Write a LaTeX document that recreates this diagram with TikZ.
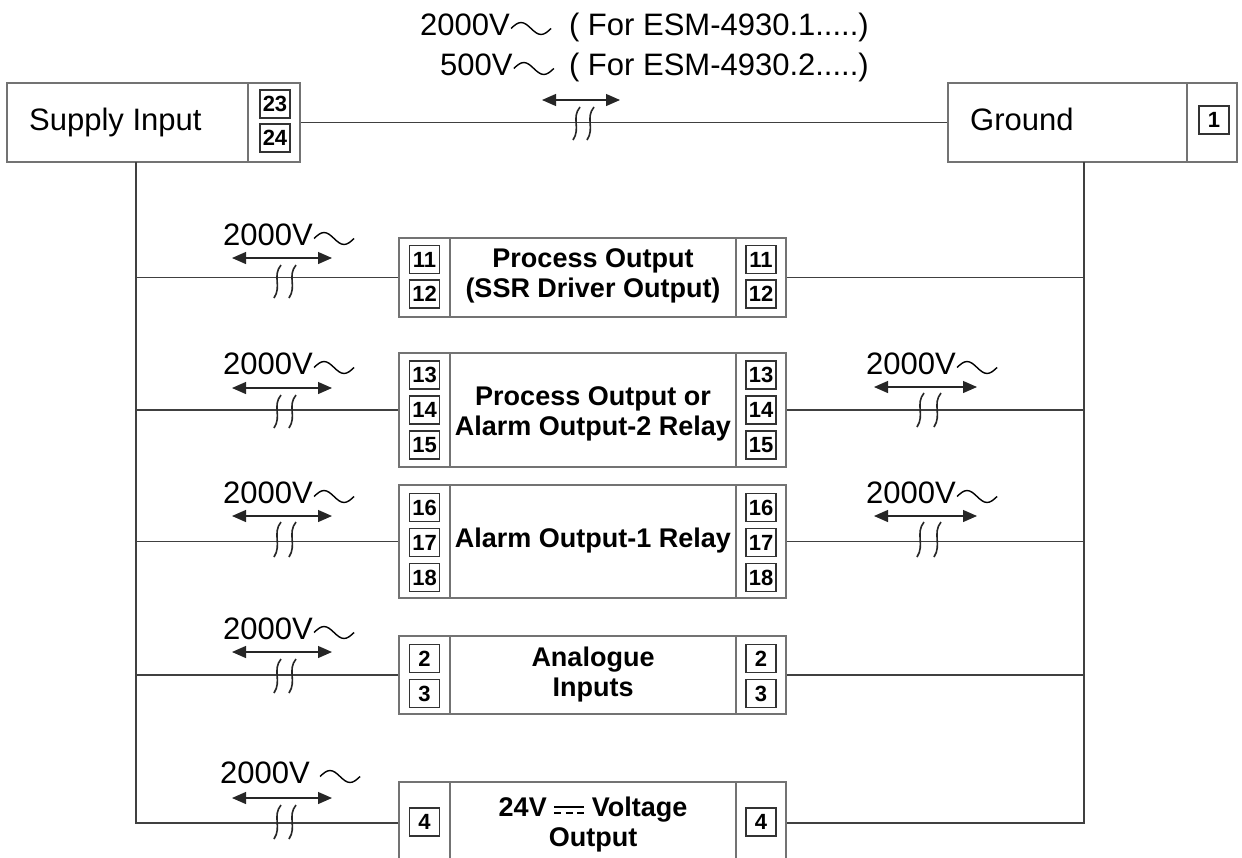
\documentclass[tikz,border=0pt]{standalone}
\usepackage{fontspec}
\setmainfont{Liberation Sans}
\usetikzlibrary{arrows.meta}
\newcommand\dcsym{\raisebox{0.12em}{\vbox{\hrule width 30pt height 1.6pt\vskip 4.5pt\hbox to 30pt{\rule{7pt}{1.6pt}\hfill\rule{7pt}{1.6pt}\hfill\rule{7pt}{1.6pt}}}}}
\newcommand\brkmark[3]{\draw[brk] (#1+4,#2) .. controls (#1-5,#2+11) and (#1+5,#3-12) .. (#1-3,#3);}
\newcommand\acwave[2]{\draw[wave] ([shift={(#2,-6.5)}]#1) sin ++(10,-6) cos ++(10,6) sin ++(10,6) cos ++(10,-6);}
\begin{document}
\begin{tikzpicture}[x=1pt,y=-1pt,
  wire/.style={draw=black!75, line width=1.3pt},
  boxline/.style={draw=black!55, line width=1.6pt},
  blk/.style={boxline, rectangle, inner sep=0pt},
  term/.style={draw=black!80, line width=1.1pt, rectangle, minimum width=30pt, minimum height=28pt, inner sep=0pt, font=\fontsize{22}{22}\selectfont\bfseries},
  lbl/.style={font=\fontsize{31}{31}\selectfont, inner sep=0pt},
  btext/.style={font=\fontsize{27}{30}\selectfont\bfseries, align=center, inner sep=0pt},
  iso/.style={draw=black!85, line width=1.2pt, {Triangle[length=14pt,width=12pt]}-{Triangle[length=14pt,width=12pt]}},
  brk/.style={draw=black!85, line width=1.6pt},
  wave/.style={draw=black, line width=1.4pt}]
\clip (0,0) rectangle (1242,857);
\fill[white] (0,0) rectangle (1242,857);

% top labels
\node[lbl, anchor=base west] (tv1) at (420,35) {2000V};
\node[lbl, anchor=base east] (tf1) at (869,35) {( For ESM-4930.1.....)};
\acwave{tv1.base east}{1}
\node[lbl, anchor=base west] (tv2) at (440,75) {500V};
\node[lbl, anchor=base east] (tf2) at (869,75) {( For ESM-4930.2.....)};
\acwave{tv2.base east}{1}

% supply and ground
\node[blk, minimum width=293pt, minimum height=79pt] (supply) at (153.5,122.5) {};
\draw[boxline] (248,83) -- (248,162);
\node[lbl, anchor=base west] (supplyt) at (29,130) {Supply Input};
\node[term] (t23) at (275,104) {23};
\node[term] (t24) at (275,138) {24};

\node[blk, minimum width=289pt, minimum height=79pt] (ground) at (1092.5,122.5) {};
\draw[boxline] (1187,83) -- (1187,162);
\node[lbl, anchor=base west] (groundt) at (970,130) {Ground};
\node[term] (t1) at (1214,120) {1};

\draw[wire] (supply.east) -- (ground.west);
\coordinate (ta1) at (542,100); \coordinate (ta2) at (620,100);
\draw[iso] (ta1) -- (ta2);
\brkmark{576}{107}{140}
\brkmark{590}{107}{140}

% blocks
\node[blk, minimum width=387pt, minimum height=79pt] (b1) at (592.5,277.5) {};
\node[blk, minimum width=387pt, minimum height=114pt] (b2) at (592.5,410) {};
\node[blk, minimum width=387pt, minimum height=113pt] (b3) at (592.5,541.5) {};
\node[blk, minimum width=387pt, minimum height=78pt] (b4) at (592.5,675) {};
\node[blk, minimum width=387pt, minimum height=82pt] (b5) at (592.5,823) {};
\foreach \b in {b1,b2,b3,b4,b5}{
  \draw[boxline] (\b.north -| 450,0) -- (\b.south -| 450,0);
  \draw[boxline] (\b.north -| 736,0) -- (\b.south -| 736,0);
}

\node[btext] (b1t) at (593,276) {Process Output\\(SSR Driver Output)};
\node[btext] (b2t) at (593,414) {Process Output or\\Alarm Output-2 Relay};
\node[btext] (b3t) at (593,541) {Alarm Output-1 Relay};
\node[btext] (b4t) at (593,675) {Analogue\\Inputs};
\node[btext] (b5t) at (593,825) {24V \dcsym{} Voltage\\Output};

% terminals
\node[term] (l11) at (424.5,259.5) {11}; \node[term] (r11) at (761,259.5) {11};
\node[term] (l12) at (424.5,294) {12};   \node[term] (r12) at (761,294) {12};
\node[term] (l13) at (424.5,375) {13};   \node[term] (r13) at (761,375) {13};
\node[term] (l14) at (424.5,410) {14};   \node[term] (r14) at (761,410) {14};
\node[term] (l15) at (424.5,445) {15};   \node[term] (r15) at (761,445) {15};
\node[term] (l16) at (424.5,507.5) {16}; \node[term] (r16) at (761,507.5) {16};
\node[term] (l17) at (424.5,542.5) {17}; \node[term] (r17) at (761,542.5) {17};
\node[term] (l18) at (424.5,577.5) {18}; \node[term] (r18) at (761,577.5) {18};
\node[term] (l2) at (424.5,658.5) {2};   \node[term] (r2) at (761,658.5) {2};
\node[term] (l3) at (424.5,693.5) {3};   \node[term] (r3) at (761,693.5) {3};
\node[term] (l4) at (424.5,822) {4};     \node[term] (r4) at (761,822) {4};

% buses
\coordinate (L0) at (136,162);
\coordinate (R0) at (1084,162);
\draw[wire] (L0) -- (b5.west -| L0) -- (b5.west);
\draw[wire] (R0) -- (b5.east -| R0) -- (b5.east);
\foreach \b in {b1,b2,b3,b4}{
  \draw[wire] (\b.west -| L0) -- (\b.west);
  \draw[wire] (\b.east) -- (\b.east -| R0);
}

% left isolation labels
\node[lbl, anchor=base west] (ll1) at (223,245) {2000V};
\node[lbl, anchor=base west] (ll2) at (223,374) {2000V};
\node[lbl, anchor=base west] (ll3) at (223,503) {2000V};
\node[lbl, anchor=base west] (ll4) at (223,639) {2000V};
\node[lbl, anchor=base west] (ll5) at (220,783) {2000V};
\acwave{ll1.base east}{1}
\acwave{ll2.base east}{1}
\acwave{ll3.base east}{1}
\acwave{ll4.base east}{1}
\acwave{ll5.base east}{10}
\foreach \y/\t/\bb in {258/265/298, 388/395/428, 516/522/557, 652/659/693, 798/805/839}{
  \draw[iso] (232,\y) -- (332,\y);
  \brkmark{277}{\t}{\bb}
  \brkmark{292}{\t}{\bb}
}

% right isolation labels
\node[lbl, anchor=base west] (rl2) at (866,374) {2000V};
\node[lbl, anchor=base west] (rl3) at (866,503) {2000V};
\acwave{rl2.base east}{1}
\acwave{rl3.base east}{1}
\foreach \y/\t/\bb in {387/393/427, 516/522/557}{
  \draw[iso] (874,\y) -- (977,\y);
  \brkmark{920}{\t}{\bb}
  \brkmark{937}{\t}{\bb}
}
\end{tikzpicture}
\end{document}
